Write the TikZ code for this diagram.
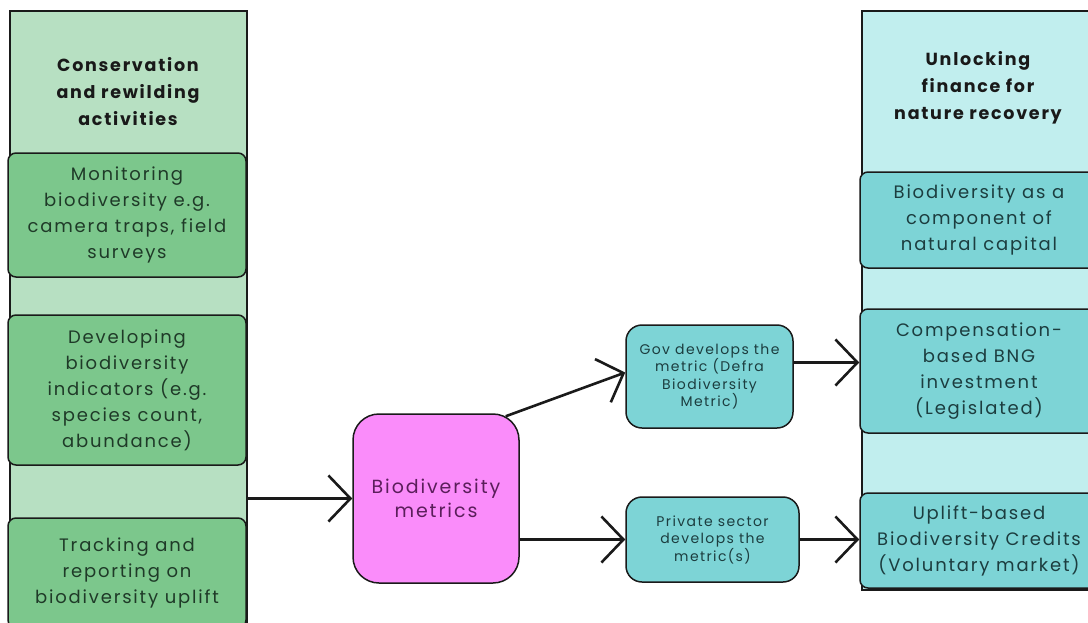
\documentclass[tikz,border=0pt]{standalone}
\usepackage{fontspec}
\setmainfont{Poppins}[LetterSpace=10]
\usetikzlibrary{arrows.meta,calc}
\definecolor{lpanel}{HTML}{B7E0C2}
\definecolor{lbox}{HTML}{7CC78C}
\definecolor{ltext}{HTML}{1F3A28}
\definecolor{rpanel}{HTML}{C1EEEE}
\definecolor{rbox}{HTML}{7DD4D6}
\definecolor{rtext}{HTML}{1C3D3F}
\definecolor{pinkfill}{HTML}{FA8CFA}
\definecolor{pinktext}{HTML}{5B1E5B}
\definecolor{edge}{HTML}{1A1A1A}
\tikzset{
  panel/.style={draw=edge, line width=1.5pt, inner sep=0pt, anchor=center},
  lbx/.style={draw=edge, line width=1.5pt, fill=lbox, rounded corners=8pt, text=ltext, align=center, font=\fontsize{18}{26}\selectfont, inner sep=0pt},
  rbx/.style={draw=edge, line width=1.5pt, fill=rbox, rounded corners=8pt, text=rtext, align=center, font=\fontsize{18}{26}\selectfont, inner sep=0pt},
  smallbx/.style={draw=edge, line width=1.5pt, fill=rbox, rounded corners=16pt, text=rtext, align=center, font=\fontsize{14}{17.5}\selectfont, inner sep=0pt},
  head/.style={align=center, font=\bfseries\fontsize{17.5}{27}\selectfont, text=black!90},
  conn/.style={draw=edge, line width=2.6pt, -{Straight Barb[length=22pt,width=46pt,line width=2.6pt]}}
}
\begin{document}
\begin{tikzpicture}[x=1pt,y=-1pt]
\useasboundingbox (0,0) rectangle (1088,622);
\fill[white] (0,0) rectangle (1088,622);
\begin{scope}
\clip (0,0) rectangle (1088,622);
% left panel
\node[panel, fill=lpanel, minimum width=237pt, minimum height=640pt] (left) at (128.5,331) {};
\node[head] (lhead) at (128,92) {Conservation\\and rewilding\\activities};
\node[lbx, minimum width=238pt, minimum height=124pt] (mon) at (127,215) {Monitoring\\biodiversity e.g.\\camera traps, field\\surveys};
\node[lbx, minimum width=238pt, minimum height=150pt] (dev) at (127,390) {Developing\\biodiversity\\indicators (e.g.\\species count,\\abundance)};
\node[lbx, minimum width=238pt, minimum height=110pt] (trk) at (127,573) {Tracking and\\reporting on\\biodiversity uplift};
% right panel
\node[panel, fill=rpanel, minimum width=236pt, minimum height=579pt] (right) at (980,300.5) {};
\node[head] (rhead) at (978,88) {Unlocking\\finance for\\nature recovery};
\node[rbx, minimum width=238pt, minimum height=96pt] (nat) at (979,220) {Biodiversity as a\\component of\\natural capital};
\node[rbx, minimum width=238pt, minimum height=124pt] (comp) at (979,371) {Compensation-\\based BNG\\investment\\(Legislated)};
\node[rbx, minimum width=238pt, minimum height=95pt] (upl) at (979,540.5) {Uplift-based\\Biodiversity Credits\\(Voluntary market)};
\end{scope}
% centre
\node[draw=edge, line width=1.5pt, fill=pinkfill, rounded corners=26pt, minimum width=166pt, minimum height=169pt, text=pinktext, align=center, font=\fontsize{19}{24}\selectfont, inner sep=0pt] (pink) at (436,498.5) {Biodiversity\\metrics};
\node[smallbx, minimum width=167pt, minimum height=103pt] (gov) at (709.5,376.5) {Gov develops the\\metric (Defra\\Biodiversity\\Metric)};
\node[smallbx, minimum width=173pt, minimum height=85pt] (priv) at (712.5,539.5) {Private sector\\develops the\\metric(s)};
% connectors
\draw[conn] (left.east |- pink.west) -- (pink.west);
\draw[conn] ($(pink.north east)+(-14,3)$) -- ([yshift=4pt]gov.west);
\draw[conn] (pink.east |- priv.west) -- (priv.west);
\draw[conn] ([yshift=14pt]gov.east) -- ([yshift=14pt]gov.east -| comp.west);
\draw[conn] (priv.east) -- (priv.east -| upl.west);
\end{tikzpicture}
\end{document}
